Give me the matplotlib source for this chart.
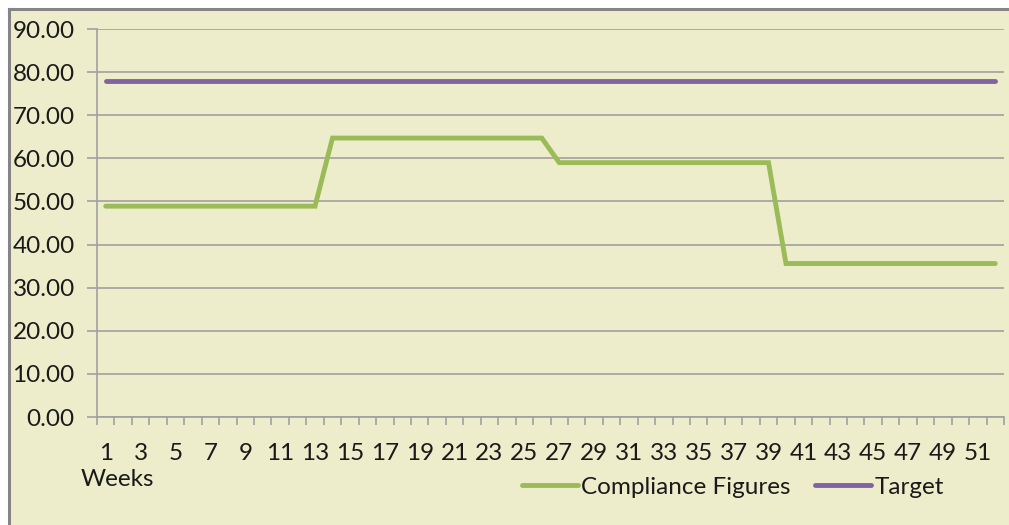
import matplotlib
matplotlib.use("Agg")
import matplotlib.pyplot as plt
from matplotlib.lines import Line2D
from matplotlib.patches import Rectangle

weeks = list(range(1, 53))
compliance = [48.9] * 13 + [64.7] * 13 + [59.0] * 13 + [35.6] * 13
target = [78.0] * 52
y_ticks = [0, 10, 20, 30, 40, 50, 60, 70, 80, 90]
x_labels = list(range(1, 53, 2))

W, H = 1009, 525
bg = "#EEEDCB"
green = "#9BBB59"
purple = "#8064A2"
grid_c = "#A0A0A0"
fs = 17.5

plt.rcParams['font.family'] = ['Lato', 'DejaVu Sans']

fig = plt.figure(figsize=(W / 100, H / 100), dpi=100)
fig.patch.set_facecolor("white")
fig.patches.append(Rectangle((8 / W, 0), 1 - 8 / W, 1 - 8 / H, transform=fig.transFigure,
                             facecolor=bg, edgecolor="none", zorder=-5))
fig.add_artist(Line2D([8.5 / W, 8.5 / W], [0, 1 - 8.5 / H], transform=fig.transFigure,
                      color="#858585", lw=2.2))
fig.add_artist(Line2D([8.5 / W, 1], [1 - 8.5 / H, 1 - 8.5 / H], transform=fig.transFigure,
                      color="#858585", lw=2.2))

ax = fig.add_axes([97 / W, 1 - 417 / H, (1004 - 97) / W, (417 - 29) / H])
ax.set_zorder(1)
ax.set_facecolor(bg)
ax.plot(weeks, compliance, color=green, lw=3.5, solid_capstyle="round", solid_joinstyle="miter",
        label="Compliance Figures", zorder=3)
ax.plot(weeks, target, color=purple, lw=3.5, solid_capstyle="round", label="Target", zorder=3)

ax.set_xlim(0.5, 52.5)
ax.set_ylim(0, 90)
ax.set_yticks(y_ticks)
ax.set_yticklabels([f"{v:.2f}" for v in y_ticks], fontsize=fs, color="#1a1a1a")
ax.yaxis.grid(True, color=grid_c, lw=1.2)
ax.set_axisbelow(True)

ax.set_xticks(x_labels)
ax.set_xticklabels([str(v) for v in x_labels], fontsize=fs, color="#1a1a1a")
ax.set_xticks([i + 0.5 for i in range(0, 53)], minor=True)
ax.tick_params(axis="x", which="major", length=0, pad=19)
ax.tick_params(axis="x", which="minor", length=6, color=grid_c, width=1.2)
ax.tick_params(axis="y", which="major", length=7, color=grid_c, width=1.2, pad=9)

for s in ["top", "right"]:
    ax.spines[s].set_visible(False)
for s in ["left", "bottom"]:
    ax.spines[s].set_color(grid_c)
    ax.spines[s].set_linewidth(1.2)

fig.text(81 / W, 1 - 480 / H, "Weeks", fontsize=fs, ha="left", va="center", color="#1a1a1a")

leg = fig.legend(loc="center", bbox_to_anchor=(733 / W, 1 - 487 / H), ncol=2, frameon=False,
                 fontsize=fs, handlelength=2.3, handletextpad=0.15, columnspacing=1.0,
                 borderaxespad=0)
for line in leg.get_lines():
    line.set_linewidth(3.5)
for t in leg.get_texts():
    t.set_color("#1a1a1a")

fig.savefig("out.png", dpi=100, facecolor=fig.get_facecolor())
